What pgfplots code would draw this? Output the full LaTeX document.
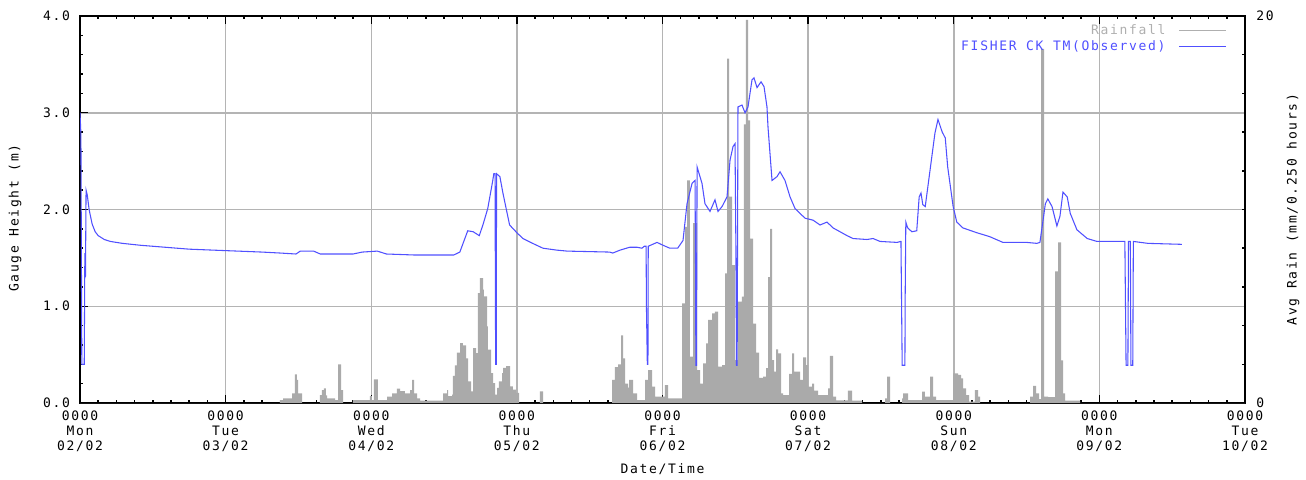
\documentclass[border=0pt]{standalone}
\usepackage{pgfplots}
\pgfplotsset{compat=1.18}
\usepackage{fontspec}
\newfontfamily\monofont[LetterSpace=13]{DejaVu Sans Mono}
\definecolor{rainc}{RGB}{170,170,170}
\definecolor{linec}{RGB}{80,80,255}
\definecolor{gridc}{RGB}{180,180,180}
\definecolor{legrain}{RGB}{175,175,175}

\pgfplotsset{base/.style={at={(0,0)}, anchor=south west, scale only axis,
  width=873.75pt, height=290.25pt, xmin=0, xmax=192}}

\begin{document}
\begin{tikzpicture}[font=\monofont\fontsize{9.75}{11.25}\selectfont]
\path[use as bounding box] (-60pt,-57pt) rectangle (919.5pt,302.25pt);

% grid and left axis
\begin{axis}[base, ymin=0, ymax=4,
  axis line style={black, line width=1.5pt},
  xtick={0,24,...,192}, minor x tick num=7,
  ytick={0,1,2,3,4}, minor y tick num=4,
  xtick pos=both, ytick pos=left, tick align=inside,
  major tick length=6pt, minor tick length=2.5pt,
  every tick/.style={black, line width=1.1pt},
  grid=major, major grid style={gridc, line width=1.125pt},
  yticklabels={0.0,1.0,2.0,3.0,4.0},
  xticklabels={{0000\\Mon\\02/02},{0000\\Tue\\03/02},{0000\\Wed\\04/02},{0000\\Thu\\05/02},{0000\\Fri\\06/02},{0000\\Sat\\07/02},{0000\\Sun\\08/02},{0000\\Mon\\09/02},{0000\\Tue\\10/02}},
  xticklabel style={align=center, yshift=-2pt},
  yticklabel style={xshift=-4pt},
  xlabel={Date/Time},
  xlabel style={at={(axis description cs:0.5,-0.1705)}, anchor=center},
  ylabel={Gauge Height (m)},
  ylabel style={at={(axis description cs:-0.0558,0.478)}, anchor=center},
]
\end{axis}

% rainfall (right axis)
\begin{axis}[base, ymin=0, ymax=20,
  axis x line=none, axis y line*=right,
  axis line style={black, line width=1.5pt},
  ytick={0,20}, yticklabels={0,20}, minor ytick={2,4,...,18},
  tick align=inside, major tick length=6pt, minor tick length=2.5pt,
  every tick/.style={black, line width=1.1pt},
  yticklabel style={xshift=5pt},
  ylabel={Avg Rain (mm/0.250 hours)},
  ylabel style={at={(axis description cs:1.0412,0.5)}, anchor=center, rotate=0},
]
\addplot[const plot mark left, fill=rainc, draw=none] coordinates {
(0,0)(32.96,0.15)(33.46,0.24)(34.94,0.5)(35.43,1.48)(35.76,1.19)(35.93,0.5)(36.59,0)(39.55,0.41)(39.88,0.67)(40.21,0.76)(40.54,0.4)(40.71,0.24)(42.03,0.15)(42.52,2.0)(43.02,0.67)(43.35,0)(44.99,0.15)(47.79,0.36)(48.12,0.15)(48.45,1.22)(49.11,0.15)(50.60,0.33)(51.42,0.5)(52.24,0.74)(52.74,0.62)(53.56,0.5)(54.39,0.67)(54.72,1.19)(55.05,0.5)(55.54,0.24)(56.04,0.12)(59.83,0.5)(60.49,0.67)(60.65,0.36)(61.31,0.43)(61.47,1.4)(61.80,1.95)(62.13,2.6)(62.63,3.1)(63.12,2.98)(63.62,2.3)(63.95,1.12)(64.44,0.6)(64.77,2.84)(65.27,2.58)(65.59,5.68)(65.92,6.46)(66.42,5.86)(66.58,5.51)(67.08,3.96)(67.24,2.76)(67.74,1.55)(68.07,1.03)(68.40,0.43)(68.73,0.78)(69.05,1.12)(69.55,1.55)(69.72,1.81)(70.21,1.9)(70.87,0.86)(71.36,0.69)(71.86,0.52)(72.35,0)(75.81,0.6)(76.31,0)(87.68,1.19)(88.17,1.85)(88.67,2.0)(89.16,3.5)(89.49,2.3)(89.82,1.0)(90.32,0.8)(90.48,1.19)(91.14,0.5)(91.80,0.15)(93.12,1.19)(93.61,1.7)(94.27,0.84)(94.77,0.33)(96.41,0.93)(96.91,0.24)(99.22,5.15)(99.71,9.1)(100.04,11.5)(100.53,2.4)(101.03,9.3)(101.69,1.7)(102.18,1.0)(102.68,2.05)(103.17,3.08)(103.50,4.29)(104.16,4.63)(104.65,4.72)(105.15,1.88)(105.81,1.96)(106.30,6.7)(106.63,17.8)(106.96,10.66)(107.46,7.13)(107.95,2.22)(108.44,5.24)(109.10,5.5)(109.43,14.4)(109.76,19.8)(110.09,14.6)(110.42,8.5)(110.92,4.1)(111.41,2.6)(111.91,1.3)(112.57,1.36)(113.06,1.8)(113.39,6.5)(113.72,9.0)(114.05,2.22)(114.38,1.62)(114.71,2.77)(115.04,2.57)(115.53,0.5)(115.86,0.41)(116.85,1.5)(117.35,2.57)(117.68,1.62)(118.66,1.19)(119.16,2.36)(119.65,1.96)(119.98,0.84)(120.64,1.0)(120.97,0.64)(121.63,0.41)(123.28,0.76)(123.60,2.43)(124.10,0.33)(124.60,0.14)(126.57,0.64)(127.23,0.12)(128.88,0)(132.67,0.24)(133.00,1.36)(133.50,0)(135.47,0.24)(135.64,0.5)(136.46,0.15)(138.77,0.59)(139.26,0.33)(140.09,1.36)(140.58,0.33)(141.08,0.15)(143.88,1.53)(144.70,1.45)(145.20,1.27)(145.53,0.76)(146.02,0.41)(146.52,0.07)(147.50,0.67)(148.00,0.33)(148.33,0)(156.57,0.33)(157.07,0.88)(157.56,0.5)(158.05,0.2)(158.38,18.3)(158.88,0.33)(159.54,0.3)(160.69,6.8)(161.19,8.3)(161.68,2.2)(162.01,0.5)(162.34,0.12)(164.81,0)(192,0)
} \closedcycle;
\end{axis}

% gauge line
\begin{axis}[base, ymin=0, ymax=4, hide axis,
  legend style={draw=none, fill=none, at={(1,1)}, anchor=north east,
    xshift=-13.5pt, yshift=-4pt, inner sep=0pt, row sep=-1pt,
    cells={anchor=east},
    /tikz/every odd column/.append style={column sep=8pt}},
  legend plot pos=right,
  legend image code/.code={\draw[#1] (0pt,0pt) -- (35pt,0pt);},
]
\addlegendimage{legrain, line width=0.9pt}
\addlegendentry{\textcolor{legrain}{Rainfall}}
\addplot[linec, line width=0.8pt] coordinates {
(0,3.0)(0.15,2.78)(0.3,0.4)(0.7,0.4)(0.8,1.55)(0.9,1.3)(1.0,2.2)(1.2,2.15)(1.5,2.0)(2.0,1.85)(2.5,1.77)(3.0,1.73)(4,1.69)(5,1.67)(7,1.65)(10,1.63)(14,1.61)(18,1.59)(22,1.58)(26,1.57)(30,1.56)(33,1.55)(35.6,1.54)(36.3,1.57)(38.5,1.57)(39.6,1.54)(45,1.54)(46.5,1.56)(49,1.57)(50.5,1.54)(55,1.53)(61.6,1.53)(62.6,1.56)(63.9,1.78)(64.8,1.77)(65.8,1.73)(66.4,1.84)(67.2,2.01)(68.0,2.29)(68.2,2.37)(68.4,2.37)(68.45,1.39)(68.5,0.4)(68.6,0.4)(68.65,2.37)(69.2,2.34)(69.7,2.17)(70.4,1.96)(70.8,1.84)(72.0,1.76)(73.0,1.70)(74.6,1.65)(76.3,1.60)(78.6,1.58)(80.3,1.57)(87.3,1.56)(87.8,1.55)(89.0,1.58)(90.6,1.61)(91.8,1.61)(92.6,1.60)(93.0,1.62)(93.3,1.62)(93.35,1.01)(93.5,0.4)(93.6,0.4)(93.65,1.62)(95.1,1.66)(96.1,1.63)(97.2,1.60)(98.5,1.60)(99.38,1.68)(100.04,2.06)(100.87,2.27)(101.36,2.30)(101.45,1.37)(101.5,0.39)(101.6,0.39)(101.7,2.44)(102.51,2.27)(103.0,2.06)(103.83,1.98)(104.65,2.10)(105.15,1.98)(105.81,2.03)(106.63,2.13)(107.13,2.51)(107.62,2.65)(107.95,2.68)(108.1,1.58)(108.2,0.39)(108.3,0.39)(108.44,3.06)(109.10,3.08)(109.6,3.0)(110.09,3.06)(110.75,3.34)(111.08,3.36)(111.58,3.26)(112.24,3.32)(112.73,3.27)(113.22,3.06)(113.39,2.85)(114.05,2.30)(114.87,2.34)(115.37,2.39)(116.19,2.30)(117.02,2.13)(117.84,2.01)(119.49,1.91)(120.81,1.89)(121.96,1.84)(123.11,1.87)(124.10,1.81)(126.41,1.73)(127.4,1.70)(129.7,1.69)(130.7,1.70)(131.85,1.67)(134.65,1.66)(135.3,1.67)(135.4,1.03)(135.5,0.39)(135.95,0.39)(136.0,1.13)(136.1,1.87)(136.4,1.81)(137.1,1.77)(137.9,1.78)(138.3,2.13)(138.6,2.17)(138.9,2.05)(139.3,2.03)(140.1,2.41)(140.9,2.79)(141.4,2.93)(142.1,2.80)(142.6,2.74)(143.0,2.44)(143.9,2.03)(144.5,1.87)(145.5,1.81)(147.8,1.76)(149.9,1.72)(152.1,1.66)(156.0,1.66)(157.7,1.65)(158.2,1.66)(159.1,2.06)(159.5,2.11)(160.2,2.03)(161.0,1.83)(161.5,1.93)(162.0,2.18)(162.7,2.13)(163.2,1.96)(164.3,1.79)(166.0,1.70)(167.6,1.67)(172.2,1.67)(172.3,1.03)(172.4,0.39)(172.7,0.39)(172.75,1.03)(172.8,1.67)(173.1,1.67)(173.15,1.03)(173.2,0.39)(173.5,0.39)(173.55,1.03)(173.6,1.67)(176,1.65)(181.6,1.64)
};
\addlegendentry{\textcolor{linec}{FISHER CK TM(Observed)}}
\end{axis}
\end{tikzpicture}
\end{document}
